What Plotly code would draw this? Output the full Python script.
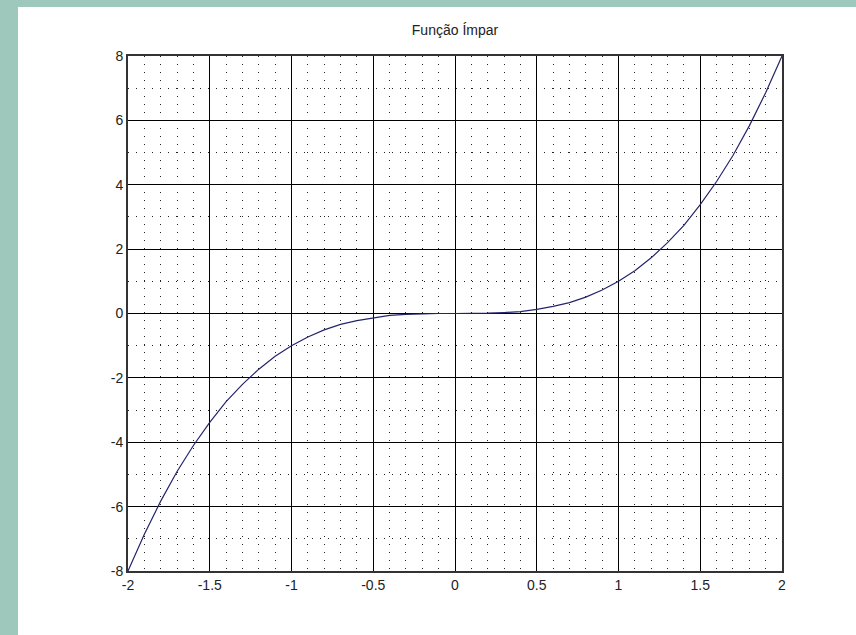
import plotly.graph_objects as go

x_vals = [-2.0, -1.9, -1.8, -1.7, -1.6, -1.5, -1.4, -1.3, -1.2, -1.1, -1.0,
          -0.9, -0.8, -0.7, -0.6, -0.5, -0.4, -0.3, -0.2, -0.1, 0.0,
          0.1, 0.2, 0.3, 0.4, 0.5, 0.6, 0.7, 0.8, 0.9, 1.0,
          1.1, 1.2, 1.3, 1.4, 1.5, 1.6, 1.7, 1.8, 1.9, 2.0]
y_vals = [-8.0, -6.86, -5.83, -4.91, -4.10, -3.38, -2.74, -2.20, -1.73, -1.33, -1.0,
          -0.73, -0.51, -0.34, -0.22, -0.13, -0.06, -0.03, -0.01, 0.0, 0.0,
          0.0, 0.01, 0.03, 0.06, 0.13, 0.22, 0.34, 0.51, 0.73, 1.0,
          1.33, 1.73, 2.20, 2.74, 3.38, 4.10, 4.91, 5.83, 6.86, 8.0]
x_ticks = [-2, -1.5, -1, -0.5, 0, 0.5, 1, 1.5, 2]
x_tick_labels = ["-2", "-1.5", "-1", "-0.5", "0", "0.5", "1", "1.5", "2"]
y_ticks = [-8, -6, -4, -2, 0, 2, 4, 6, 8]
y_tick_labels = ["-8", "-6", "-4", "-2", "0", "2", "4", "6", "8"]
title_text = "Função Ímpar"

fig = go.Figure()
fig.add_trace(go.Scatter(x=x_vals, y=y_vals, mode="lines",
                         line=dict(color="#24246e", width=1.2), showlegend=False))

font_family = "Liberation Sans, Arial, sans-serif"
axis_common = dict(
    showgrid=True, gridcolor="#000000", gridwidth=1,
    zeroline=False, showline=True, linecolor="#333333", linewidth=2,
    mirror="allticks", ticks="inside", ticklen=5, tickcolor="#000000",
    tickfont=dict(family=font_family, size=14, color="#222222"),
)

fig.update_layout(
    width=856, height=635,
    margin=dict(l=128, r=74, t=56, b=64),
    paper_bgcolor="#9dc8bb",
    plot_bgcolor="#ffffff",
    title=dict(text=title_text, x=0.5, xref="paper", y=1 - 30 / 635, yanchor="middle",
               font=dict(family=font_family, size=14, color="#222222")),
    xaxis=dict(range=[-2, 2], tickvals=x_ticks, ticktext=x_tick_labels,
               minor=dict(dtick=0.1, tick0=0, showgrid=True, gridcolor="#222222",
                          gridwidth=1, griddash="1px,7px", ticks=""),
               **axis_common),
    yaxis=dict(range=[-8, 8], tickvals=y_ticks, ticktext=y_tick_labels,
               minor=dict(dtick=1, tick0=0, showgrid=True, gridcolor="#222222",
                          gridwidth=1, griddash="1px,7px", ticks=""),
               **axis_common),
    shapes=[dict(type="rect", xref="paper", yref="paper",
                 x0=(18 - 128) / 654, x1=(856 - 128) / 654,
                 y0=(571 - 635) / 515, y1=(571 - 7) / 515,
                 fillcolor="#ffffff", line=dict(width=0), layer="below")],
)

fig.write_html("out.html", config={"displayModeBar": False},
               post_script="document.body.style.margin='0';document.body.style.overflow='hidden';")
